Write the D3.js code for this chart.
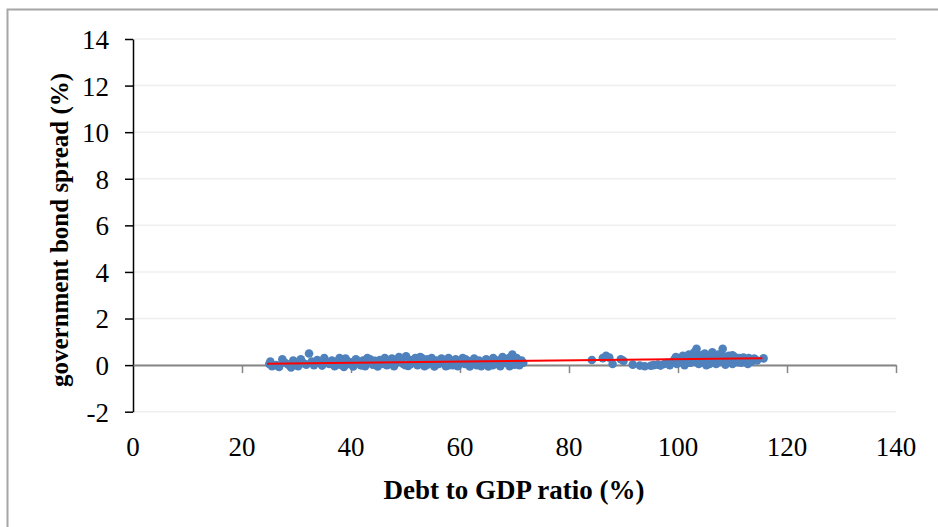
<!DOCTYPE html>
<html>
<head>
<meta charset="utf-8">
<script src="https://cdn.jsdelivr.net/npm/d3@7"></script>
<style>
  body { margin: 0; background: #fff; }
  svg { display: block; }
  text { font-family: "Liberation Serif", "DejaVu Serif", serif; fill: #000; }
</style>
</head>
<body>
<svg id="chart" width="938" height="527"></svg>
<script>
// Debt to GDP ratio vs government bond spread, scatter with linear trend

// --- Data ---
const debtLow = [25.0, 25.2, 25.5, 26.3, 26.8, 27.4, 27.9, 28.5, 29.0, 29.4, 29.9, 30.3, 30.8, 31.3, 31.8, 32.3, 32.8, 33.2, 33.8, 34.2,
  34.7, 35.1, 35.6, 36.0, 36.5, 37.0, 37.4, 37.9, 38.3, 38.7, 39.2, 39.6, 40.0, 40.4, 40.9, 41.3, 41.8, 42.2, 42.6, 43.1,
  43.5, 44.0, 44.4, 44.9, 45.3, 45.7, 46.2, 46.6, 47.0, 47.5, 47.9, 48.3, 48.8, 49.2, 49.6, 50.1, 50.5, 50.9, 51.4, 51.8,
  52.2, 52.7, 53.1, 53.5, 54.0, 54.4, 54.8, 55.3, 55.7, 56.1, 56.6, 57.0, 57.4, 57.9, 58.3, 58.7, 59.2, 59.6, 60.0, 60.5,
  60.9, 61.3, 61.8, 62.2, 62.6, 63.1, 63.5, 63.9, 64.4, 64.8, 65.2, 65.7, 66.1, 66.5, 67.0, 67.4, 67.8, 68.3, 68.7, 69.1,
  69.6, 70.0, 70.4, 70.9, 71.3, 71.6, 39.0, 41.0, 43.0, 45.0, 47.0, 49.0, 51.0, 53.0, 55.0, 57.0, 59.0, 61.0, 63.0, 65.0,
  67.0, 69.0, 71.0, 38.0, 42.0, 46.0, 50.0, 54.0, 58.0, 62.0, 66.0, 70.0];
const spreadLow = [0.05, 0.15, -0.05, 0.0, -0.08, 0.25, 0.1, 0.02, -0.1, 0.2, 0.12, -0.05, 0.25, 0.08, 0.02, 0.5, 0.15, 0.0, 0.22, 0.1,
  -0.02, 0.3, 0.12, 0.05, 0.2, -0.05, 0.15, 0.3, 0.08, -0.08, 0.2, 0.05, 0.12, -0.06, 0.25, 0.15, 0.0, 0.2, -0.05, 0.1,
  0.25, 0.02, 0.18, -0.06, 0.22, 0.08, 0.3, 0.0, 0.15, 0.28, -0.05, 0.1, 0.35, 0.2, 0.05, 0.38, -0.04, 0.22, 0.12, 0.3,
  0.0, 0.35, 0.18, -0.05, 0.25, 0.1, 0.3, -0.06, 0.2, 0.05, 0.28, 0.12, -0.05, 0.3, 0.15, 0.0, 0.25, -0.05, 0.1, 0.3,
  0.05, 0.2, -0.06, 0.15, 0.28, 0.0, 0.2, -0.05, 0.1, 0.25, -0.06, 0.15, 0.3, 0.05, 0.2, -0.05, 0.35, 0.1, 0.25, -0.05,
  0.45, 0.15, 0.3, 0.0, 0.2, 0.1, 0.28, 0.08, 0.3, 0.12, 0.2, 0.25, 0.05, 0.3, 0.1, 0.22, 0.06, 0.25, 0.1, 0.05,
  0.12, 0.3, 0.05, 0.02, 0.0, 0.05, 0.0, 0.02, 0.0, 0.02, 0.0, 0.02];
const debtHigh = [84.2, 86.2, 86.8, 87.4, 88.0, 89.5, 90.0, 91.7, 93.0, 93.9, 95.0, 95.5, 96.3, 96.8, 97.5, 98.0, 98.5, 99.0, 99.4, 99.8,
  100.2, 100.5, 100.9, 101.2, 101.6, 102.0, 102.3, 102.7, 103.0, 103.4, 103.8, 104.1, 104.5, 104.9, 105.2, 105.6, 106.0, 106.3, 106.7, 107.0,
  107.4, 107.8, 108.2, 108.5, 108.9, 109.3, 109.6, 110.0, 110.4, 110.8, 111.2, 111.6, 112.0, 112.5, 113.0, 113.5, 114.0, 114.5, 115.7, 100.0,
  101.0, 102.0, 103.0, 104.0, 105.0, 106.0, 107.0, 108.0, 109.0, 110.0, 111.0, 104.7, 106.8, 108.7, 112.8, 99.6, 101.8, 103.6, 105.8, 107.6];
const spreadHigh = [0.22, 0.3, 0.4, 0.32, 0.05, 0.25, 0.18, 0.02, -0.02, -0.05, -0.03, 0.0, 0.02, -0.02, 0.05, 0.1, 0.0, 0.15, 0.25, 0.05,
  0.3, 0.12, 0.4, 0.0, 0.2, 0.45, 0.1, 0.3, 0.55, 0.7, 0.05, 0.35, 0.2, 0.5, 0.0, 0.4, 0.15, 0.55, 0.3, 0.05,
  0.45, 0.2, 0.7, 0.35, 0.1, 0.4, 0.25, 0.05, 0.35, 0.2, 0.3, 0.1, 0.32, 0.2, 0.3, 0.15, 0.28, 0.2, 0.29, 0.2,
  0.32, 0.22, 0.15, 0.42, 0.28, 0.38, 0.25, 0.48, 0.18, 0.42, 0.12, 0.1, 0.12, 0.02, 0.05, 0.35, 0.1, 0.25, 0.05, 0.15];

// linear trend line end points
const trendDebt = [24.6, 115.5];
const trendSpread = [0.06, 0.29];

const xTicks = [0, 20, 40, 60, 80, 100, 120, 140];
const yTicks = [-2, 0, 2, 4, 6, 8, 10, 12, 14];

// --- Setup ---
const svg = d3.select("#chart");
const plotLeft = 133, plotRight = 896, plotTop = 39, plotBottom = 411.7;

const x = d3.scaleLinear().domain([0, 140]).range([plotLeft, plotRight]);
const y = d3.scaleLinear().domain([-2, 14]).range([plotBottom, plotTop]);

// outer frame
svg.append("rect")
  .attr("x", 7.5).attr("y", 9.5)
  .attr("width", 940).attr("height", 530)
  .attr("fill", "none")
  .attr("stroke", "#a6a6a6")
  .attr("stroke-width", 2);

// gridlines
svg.append("g")
  .selectAll("line")
  .data(yTicks)
  .join("line")
  .attr("x1", plotLeft).attr("x2", plotRight)
  .attr("y1", d => y(d)).attr("y2", d => y(d))
  .attr("stroke", "#efefef")
  .attr("stroke-width", 1.5);

// y axis (black, ticks to the left); plain hyphen for the minus sign
const yAxis = svg.append("g")
  .attr("transform", `translate(${plotLeft},0)`)
  .call(d3.axisLeft(y).tickValues(yTicks).tickSize(8).tickSizeOuter(0).tickPadding(16)
    .tickFormat(d => String(d)));
yAxis.select(".domain").attr("stroke", "#000").attr("stroke-width", 1.5);
yAxis.selectAll(".tick line").attr("stroke", "#000").attr("stroke-width", 1.5);
yAxis.selectAll("text")
  .attr("font-family", "Liberation Serif")
  .attr("font-size", 27)
  .attr("dy", "0.35em");

// x axis drawn on y = 0 (gray, ticks down), labels placed under the plot
const xAxis = svg.append("g")
  .attr("transform", `translate(0,${y(0)})`)
  .call(d3.axisBottom(x).tickValues(xTicks).tickSize(8).tickSizeOuter(0).tickFormat(""));
xAxis.select(".domain").attr("stroke", "#868686").attr("stroke-width", 2);
xAxis.selectAll(".tick line").attr("stroke", "#868686").attr("stroke-width", 1.5);
xAxis.selectAll(".tick").filter(d => d === 0).select("line").remove();

svg.append("g")
  .selectAll("text")
  .data(xTicks)
  .join("text")
  .attr("x", d => x(d))
  .attr("y", 456)
  .attr("text-anchor", "middle")
  .attr("font-size", 27)
  .text(d => d);

// points
const points = debtLow.map((d, i) => ({ debt: d, spread: spreadLow[i] }))
  .concat(debtHigh.map((d, i) => ({ debt: d, spread: spreadHigh[i] })));

svg.append("g")
  .selectAll("circle")
  .data(points)
  .join("circle")
  .attr("cx", d => x(d.debt))
  .attr("cy", d => y(d.spread))
  .attr("r", 4.3)
  .attr("fill", "#4f81bd");

// trend line
const line = d3.line().x(d => x(d[0])).y(d => y(d[1]));
svg.append("path")
  .datum(trendDebt.map((d, i) => [d, trendSpread[i]]))
  .attr("d", line)
  .attr("fill", "none")
  .attr("stroke", "#ff0000")
  .attr("stroke-width", 2);

// axis titles
svg.append("text")
  .attr("x", 514)
  .attr("y", 499)
  .attr("text-anchor", "middle")
  .attr("font-size", 27)
  .attr("font-weight", "bold")
  .text("Debt to GDP ratio (%)");

svg.append("text")
  .attr("transform", `translate(68,230) rotate(-90)`)
  .attr("text-anchor", "middle")
  .attr("font-size", 25)
  .attr("font-weight", "bold")
  .text("government bond spread (%)");
</script>
</body>
</html>
